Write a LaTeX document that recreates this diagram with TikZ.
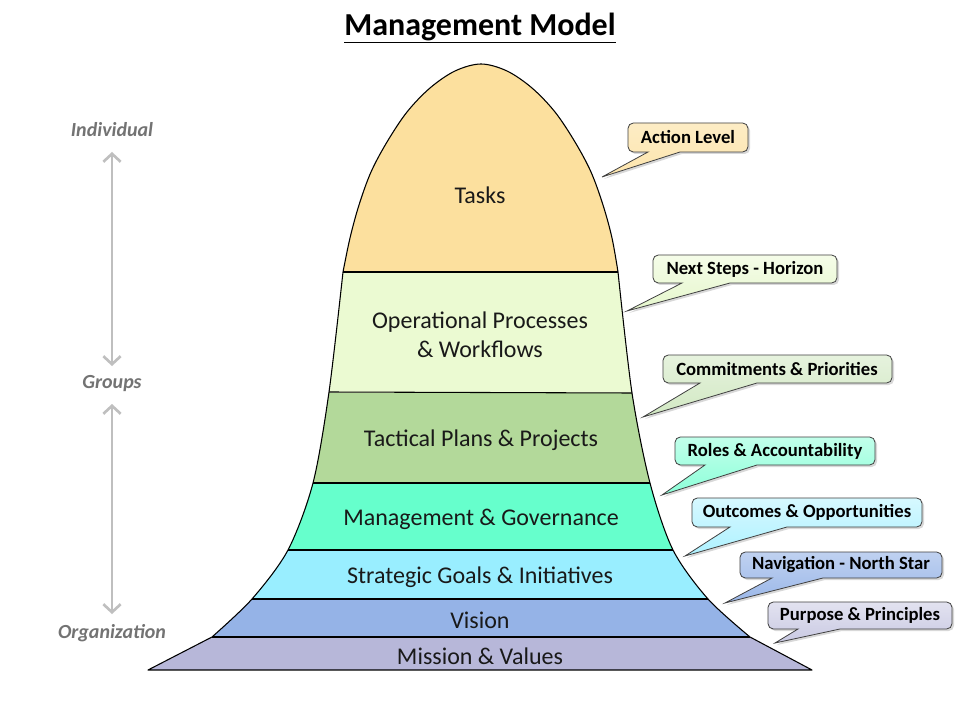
\documentclass[tikz,border=0pt]{standalone}
\usepackage{fontspec}
\setmainfont{Carlito}
\usetikzlibrary{arrows.meta,shadows,calc}
\definecolor{tasksc}{RGB}{252,224,158}
\definecolor{opc}{RGB}{235,250,210}
\definecolor{tacc}{RGB}{179,217,154}
\definecolor{mgc}{RGB}{102,255,204}
\definecolor{strc}{RGB}{153,238,255}
\definecolor{visc}{RGB}{149,179,231}
\definecolor{misc}{RGB}{183,183,217}
\definecolor{txtc}{RGB}{25,25,25}
\tikzset{
  layertxt/.style={font=\fontsize{18}{21.75}\selectfont, text=txtc, align=center},
  cotxt/.style={font=\bfseries\fontsize{14}{17}\selectfont, text=black},
  sidetxt/.style={font=\bfseries\itshape\fontsize{15}{18}\selectfont, text=black!55},
  garr/.style={draw=black!25, line width=2pt, {Straight Barb[length=6pt,width=13pt]}-{Straight Barb[length=6pt,width=13pt]}},
  co/.style={draw=black!75, line width=0.6pt, drop shadow={shadow xshift=1.5pt,shadow yshift=-1.5pt,opacity=0.3}},
  bandline/.style={draw=black, line width=0.8pt},
}
\begin{document}
\begin{tikzpicture}[x=0.75pt,y=-0.75pt]
\fill[white] (0,0) rectangle (960,720);
\useasboundingbox (0,0) rectangle (960,720);

\def\bell{(148,670) -- (212,637)
  -- plot[smooth, tension=0.5] coordinates {(212,637) (252,599) (288,550) (313,483) (329,392) (343,272)}
  -- plot[smooth, tension=0.55] coordinates {(343,272) (350,238) (359,205) (371,172) (387,142) (407,112) (430,88) (455,71) (481,64) (507,71) (532,88) (555,112) (575,142) (591,172) (603,205) (612,238) (618,272)}
  -- plot[smooth, tension=0.5] coordinates {(618,272) (632,393) (650,483) (673,550) (708,599) (750,637)}
  -- (812,670) -- cycle}

% layer fills
\begin{scope}
  \clip \bell;
  \fill[tasksc] (0,0) rectangle (960,272);
  \fill[opc] (0,272) rectangle (960,393);
  \fill[tacc] (0,393) rectangle (960,483);
  \fill[mgc] (0,483) rectangle (960,550);
  \fill[strc] (0,550) rectangle (960,599);
  \fill[visc] (0,599) rectangle (960,637);
  \fill[misc] (0,637) rectangle (960,670);
\end{scope}
\draw[bandline] (343,272) -- (618,272);
\draw[bandline] (329,392) -- (632,393);
\draw[bandline] (313,483) -- (650,483);
\draw[bandline] (288,550) -- (673,550);
\draw[bandline] (252,599) -- (708,599);
\draw[bandline] (212,637) -- (750,637);
\draw[bandline, line join=round] \bell;

% layer texts
\node[layertxt] (tasks) at (480,195) {Tasks};
\node[layertxt] (ops) at (480,335) {Operational Processes\\\& Workflows};
\node[layertxt] (tac) at (481,440) {Tactical Plans \& Projects};
\node[layertxt] (mgmt) at (481,519) {Management \& Governance};
\node[layertxt] (strat) at (480,577) {Strategic Goals \& Initiatives};
\node[layertxt] (vis) at (480,620) {Vision};
\node[layertxt] (mis) at (480,656) {Mission \& Values};

% title
\node[font=\bfseries\fontsize{24}{28}\selectfont] (title) at (480,28) {\underline{Management Model}};

% side labels
\node[sidetxt] (ind) at (112,130) {Individual};
\node[sidetxt] (grp) at (112,384) {Groups};
\node[sidetxt] (org) at (112,633) {Organization};
\draw[garr] ($(ind.center)+(0,22)$) -- ($(grp.center)+(0,-18)$);
\draw[garr] ($(grp.center)+(0,20)$) -- ($(org.center)+(0,-19)$);

% callouts
\coordinate (t1) at (602,177);
\path[co, top color=white!40!tasksc, bottom color=tasksc!85] (628,137) [rounded corners=4pt] -- (628,123) -- (748,123) -- (748,152) [sharp corners] -- (680,152) -- (t1) -- (648,152) [rounded corners=4pt] -- (628,152) -- cycle;
\node[cotxt] (c1) at (688,137) {Action Level};

\coordinate (t2) at (627,311);
\path[co, top color=white!50!opc, bottom color=opc!90!tacc] (653,269) [rounded corners=4pt] -- (653,255) -- (837,255) -- (837,283) [sharp corners] -- (730,283) -- (t2) -- (682,283) [rounded corners=4pt] -- (653,283) -- cycle;
\node[cotxt] (c2) at (745,269) {Next Steps - Horizon};

\coordinate (t3) at (643,417);
\path[co, top color=white!45!tacc!60, bottom color=tacc!60] (663,369) [rounded corners=4pt] -- (663,355) -- (892,355) -- (892,383) [sharp corners] -- (757,383) -- (t3) -- (700,383) [rounded corners=4pt] -- (663,383) -- cycle;
\node[cotxt] (c3) at (777,369) {Commitments \& Priorities};

\coordinate (t4) at (662,495);
\path[co, top color=mgc!40, bottom color=mgc!75] (675,451) [rounded corners=4pt] -- (675,437) -- (875,437) -- (875,465) [sharp corners] -- (757,465) -- (t4) -- (705,465) [rounded corners=4pt] -- (675,465) -- cycle;
\node[cotxt] (c4) at (775,451) {Roles \& Accountability};

\coordinate (t5) at (685,556);
\path[co, top color=strc!40, bottom color=strc!80] (692,512) [rounded corners=4pt] -- (692,498) -- (922,498) -- (922,527) [sharp corners] -- (787,527) -- (t5) -- (730,527) [rounded corners=4pt] -- (692,527) -- cycle;
\node[cotxt] (c5) at (807,512) {Outcomes \& Opportunities};

\coordinate (t6) at (725,603);
\path[co, top color=visc!60, bottom color=visc!95] (740,565) [rounded corners=4pt] -- (740,552) -- (942,552) -- (942,578) [sharp corners] -- (823,578) -- (t6) -- (772,578) [rounded corners=4pt] -- (740,578) -- cycle;
\node[cotxt] (c6) at (841,565) {Navigation - North Star};

\coordinate (t7) at (775,643);
\path[co, top color=misc!40, bottom color=misc!75] (768,615) [rounded corners=4pt] -- (768,602) -- (952,602) -- (952,629) [sharp corners] -- (840,629) -- (t7) -- (798,629) [rounded corners=4pt] -- (768,629) -- cycle;
\node[cotxt] (c7) at (860,615) {Purpose \& Principles};
\end{tikzpicture}
\end{document}
